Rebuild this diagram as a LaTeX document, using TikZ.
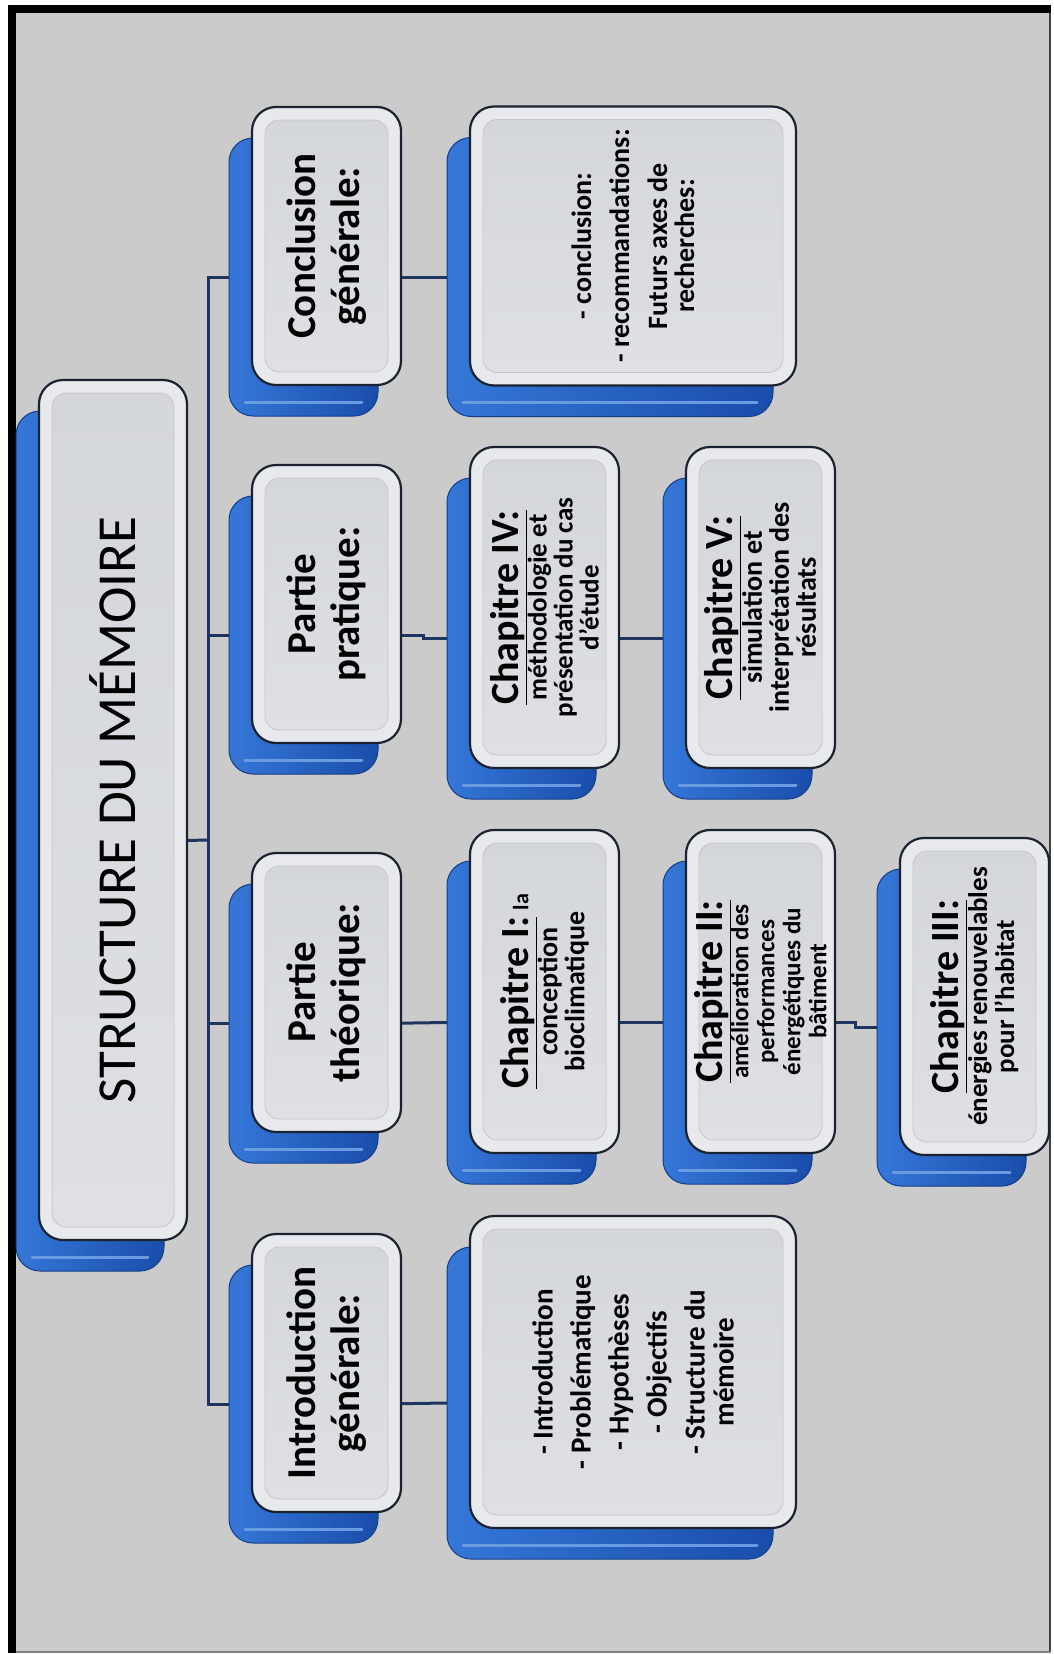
\documentclass[tikz,border=0pt]{standalone}
\usepackage{fontspec}
\setmainfont{Carlito}
\usetikzlibrary{calc}
\pgfdeclarelayer{back}
\pgfdeclarelayer{lines}
\pgfsetlayers{back,lines,main}
\definecolor{bgc}{HTML}{CBCBCB}
\definecolor{navy}{HTML}{1E3560}
\definecolor{blueA}{HTML}{3577D8}
\definecolor{blueB}{HTML}{1A4DAA}
\definecolor{blueHi}{HTML}{6A9BE0}
\definecolor{edgec}{HTML}{1B2230}
\definecolor{frontc}{HTML}{E8E9EC}
\definecolor{panelA}{HTML}{D3D6DB}
\definecolor{panelB}{HTML}{DEE0E4}
\tikzset{
  shadowbox/.style={rounded corners=24pt, left color=blueA, right color=blueB, draw=blueB!80!black, line width=1pt, inner sep=0pt, outer sep=0pt},
  frontbox/.style={rounded corners=24pt, fill=frontc, draw=edgec, line width=2.2pt, inner sep=0pt, outer sep=0pt},
  panel/.style={rounded corners=14pt, top color=panelA, bottom color=panelB, draw=black!22, line width=0.8pt},
  conn/.style={draw=navy, line width=3pt},
  lvl/.style={rotate=90, align=center, font=\fontsize{41}{44}\selectfont\bfseries},
  chap/.style={rotate=90, align=center},
  det/.style={rotate=90, align=center},
}
\newcommand\mkunit[5]{%
  \node[shadowbox, minimum width=#4, minimum height=#5] (#1s) at (#2-23,#3+31) {};
  \draw[blueHi, line width=3pt, line cap=round] ($(#1s.south west)+(16,-14)$) -- ($(#1s.south east)+(-16,-14)$);
  \node[frontbox, minimum width=#4, minimum height=#5] (#1) at (#2,#3) {};
  \draw[panel] ($(#1.north west)+(13,13)$) rectangle ($(#1.south east)+(-13,-13)$);
}
\newcommand\ctitle[1]{{\fontsize{40}{40}\selectfont\underline{#1}}}
\begin{document}
\begin{tikzpicture}[x=1pt,y=-1pt]
\useasboundingbox (0,0) rectangle (1053,1654);
\begin{pgfonlayer}{back}
\fill[white] (0,0) rectangle (1053,1654);
\fill[bgc] (8,5) rectangle (1051,1653);
\fill[black] (8,5) rectangle (1051,13);
\fill[black] (8,5) rectangle (16,1653);
\fill[black!75] (1049,13) rectangle (1051,1653);
\fill[black!50] (16,1651) rectangle (1051,1653);
\end{pgfonlayer}

\mkunit{root}{113}{810}{148}{860}
\mkunit{concl}{326.5}{246}{149}{278}
\mkunit{prat}{326.5}{604}{149}{278}
\mkunit{theo}{326.5}{992.5}{149}{279}
\mkunit{intro}{326.5}{1373}{149}{278}
\mkunit{concld}{633}{246}{326}{279}
\mkunit{introd}{633}{1372}{326}{312}
\mkunit{chiv}{544.5}{607.5}{149}{321}
\mkunit{chv}{760.5}{607.5}{149}{321}
\mkunit{chi}{544.5}{991.5}{149}{323}
\mkunit{chii}{760.5}{991.5}{149}{323}
\mkunit{chiii}{974.5}{996.5}{149}{317}

\node[rotate=90, font=\fontsize{55}{60}\selectfont] (roott) at (root) {STRUCTURE DU MÉMOIRE};
\node[lvl] (conclt) at (concl) {Conclusion\\générale:};
\node[lvl] (pratt) at (prat) {Partie\\pratique:};
\node[lvl] (theot) at (theo) {Partie\\théorique:};
\node[lvl] (introt) at (intro) {Introduction\\générale:};

\node[chap, font=\fontsize{27}{26}\selectfont\bfseries] (chivt) at (chiv) {\ctitle{Chapitre IV:}\\méthodologie et\\présentation du cas\\d’étude};
\node[chap, font=\fontsize{28}{27}\selectfont\bfseries] (chvt) at (chv) {\ctitle{Chapitre V:}\\simulation et\\interprétation des\\résultats};
\node[chap, font=\fontsize{28}{27}\selectfont\bfseries] (chit) at (chi) {\ctitle{Chapitre I:} {\fontsize{22}{22}\selectfont la}\\conception\\bioclimatique};
\node[chap, font=\fontsize{25}{26}\selectfont\bfseries] (chiit) at (chii) {\ctitle{Chapitre II:}\\amélioration des\\performances\\énergétiques du\\bâtiment};
\node[chap, font=\fontsize{27}{27}\selectfont\bfseries] (chiiit) at (chiii) {\ctitle{Chapitre III:}\\énergies renouvelables\\pour l’habitat};

\node[det, font=\fontsize{28}{27}\selectfont\bfseries] (concldt) at (concld) {- conclusion:\\[11pt]- recommandations:\\[11pt]Futurs axes de\\recherches:};
\node[det, font=\fontsize{29}{29}\selectfont\bfseries] (introdt) at (introd) {- Introduction\\[9pt]- Problématique\\[9pt]- Hypothèses\\[9pt]- Objectifs\\[9pt]- Structure du\\mémoire};

\begin{pgfonlayer}{lines}
\coordinate (jn) at (208,840);
\draw[conn] (roots.east) -- (jn);
\draw[conn] (concls.west) -| (jn) |- (intros.west);
\draw[conn] (jn |- prats.west) -- (prats.west);
\draw[conn] (jn |- theos.west) -- (theos.west);
\draw[conn] (concls.east) -- (conclds.west);
\draw[conn] (intros.east) -- (introds.west);
\draw[conn] (prats.east) -- ++(45,0) |- (chivs.west);
\draw[conn] (chivs.east) -- (chvs.west);
\draw[conn] (theos.east) -- (chis.west);
\draw[conn] (chis.east) -- (chiis.west);
\draw[conn] (chiis.east) -- ++(43,0) |- (chiiis.west);
\end{pgfonlayer}
\end{tikzpicture}
\end{document}
